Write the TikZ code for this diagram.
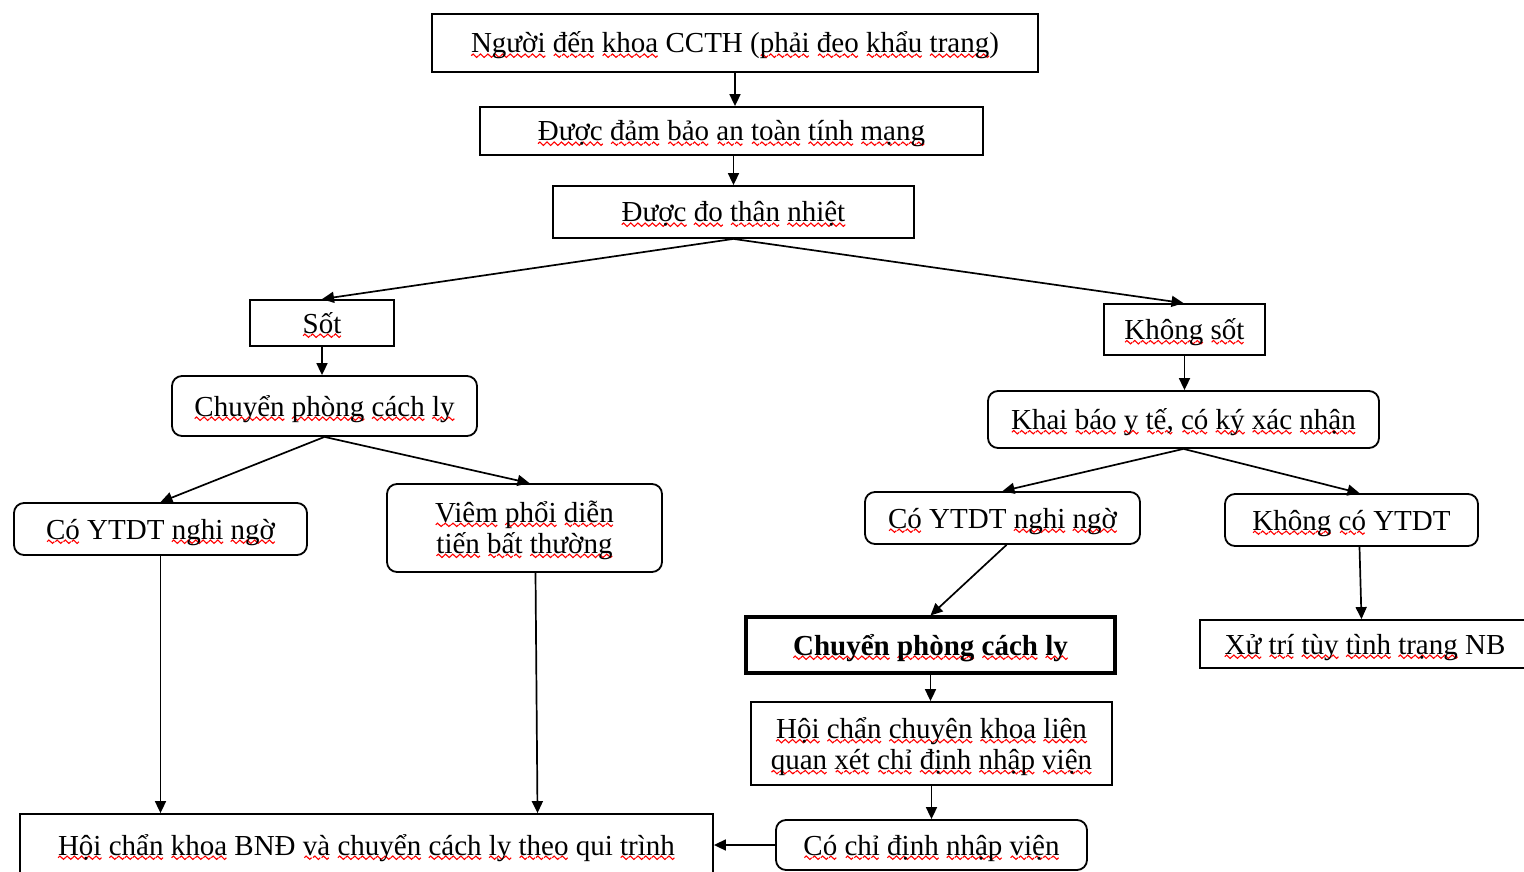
\documentclass[tikz,border=0pt]{standalone}
\usepackage{fontspec}
\setmainfont{Liberation Serif}
\usetikzlibrary{arrows.meta,calc}
\newsavebox\wavebox
\newsavebox\sqbox
\newcommand\sq[1]{\sbox\sqbox{#1}\rlap{\raisebox{-4.5pt}{\hbox to\wd\sqbox{\xleaders\copy\wavebox\hfill}}}\usebox\sqbox}
\newcommand\boxfont{\fontsize{29pt}{31pt}\selectfont}
\begin{document}
\sbox\wavebox{\begin{pgfpicture}\pgfsetlinewidth{1.1pt}\pgfsetstrokecolor{red}%
\pgfpathmoveto{\pgfpointorigin}\pgfpathsine{\pgfpoint{1.8pt}{1.7pt}}\pgfpathcosine{\pgfpoint{1.8pt}{-1.7pt}}%
\pgfpathsine{\pgfpoint{1.8pt}{-1.7pt}}\pgfpathcosine{\pgfpoint{1.8pt}{1.7pt}}\pgfusepath{stroke}%
\pgfresetboundingbox\pgfpathrectangle{\pgfpoint{0pt}{-1.8pt}}{\pgfpoint{7.2pt}{3.6pt}}\pgfusepath{use as bounding box}%
\end{pgfpicture}}%
\begin{tikzpicture}[x=1pt,y=-1pt,
  box/.style={draw, line width=1.8pt, inner sep=0pt, font=\boxfont, text height=21pt, text depth=1pt},
  rbox/.style={box, rounded corners=10pt},
  txt/.style={font=\boxfont, align=center, inner sep=0pt},
  arr/.style={-{Triangle[length=12pt,width=11pt]}, line width=1.7pt}]
\useasboundingbox (0,0) rectangle (1524,872);

\node[box, minimum width=606pt, minimum height=58pt] (top) at (735,43)
  {\sq{Người} \sq{đến} \sq{khoa} CCTH (\sq{phải} \sq{đeo} \sq{khẩu} \sq{trang})};
\node[box, minimum width=503pt, minimum height=48pt] (b2) at (731.5,131)
  {\sq{Được} \sq{đảm} \sq{bảo} \sq{an} \sq{toàn} \sq{tính} \sq{mạng}};
\node[box, minimum width=361pt, minimum height=52pt] (b3) at (733.5,212)
  {\sq{Được} \sq{đo} \sq{thân} \sq{nhiệt}};
\node[box, minimum width=144pt, minimum height=46pt] (sot) at (322,323) {\sq{Sốt}};
\node[box, minimum width=161pt, minimum height=51pt] (ks) at (1184.5,329.5) {\sq{Không} \sq{sốt}};
\node[rbox, minimum width=305pt, minimum height=60pt] (cp1) at (324.5,406)
  {\sq{Chuyển} \sq{phòng} \sq{cách} \sq{ly}};
\node[rbox, minimum width=391pt, minimum height=57pt] (kb) at (1183.5,419.5)
  {\sq{Khai} \sq{báo} \sq{y} \sq{tế,} \sq{có} \sq{ký} \sq{xác} \sq{nhận}};
\node[rbox, minimum width=293pt, minimum height=52pt] (cy1) at (160.5,529)
  {\sq{Có} YTDT \sq{nghi} \sq{ngờ}};
\node[rbox, minimum width=275pt, minimum height=88pt] (viem) at (524.5,528) {};
\node[txt] (viemt) at ([yshift=-2pt]viem.center)
  {\sq{Viêm} \sq{phổi} \sq{diễn}\\\sq{tiến} \sq{bất} \sq{thường}};
\node[rbox, minimum width=275pt, minimum height=52pt] (cy2) at (1002.5,518)
  {\sq{Có} YTDT \sq{nghi} \sq{ngờ}};
\node[rbox, minimum width=253pt, minimum height=52pt] (kco) at (1351.5,520)
  {\sq{Không} \sq{có} YTDT};
\node[box, line width=3.2pt, minimum width=369pt, minimum height=56pt, font=\boxfont\bfseries] (cp2) at (930.5,645)
  {\sq{Chuyển} \sq{phòng} \sq{cách} \sq{ly}};
\node[box, minimum width=330pt, minimum height=48pt] (xu) at (1365,644)
  {\sq{Xử} \sq{trí} \sq{tùy} \sq{tình} \sq{trạng} NB};
\node[box, minimum width=361pt, minimum height=83pt] (hc) at (931.5,743.5) {};
\node[txt] (hct) at ([yshift=-3pt]hc.center)
  {\sq{Hội} \sq{chẩn} \sq{chuyên} \sq{khoa} \sq{liên}\\\sq{quan} \sq{xét} \sq{chỉ} \sq{định} \sq{nhập} \sq{viện}};
\node[rbox, minimum width=311pt, minimum height=50pt] (ccd) at (931.5,845)
  {\sq{Có} \sq{chỉ} \sq{định} \sq{nhập} \sq{viện}};
\node[box, minimum width=693pt, minimum height=62pt] (bnd) at (366.5,845)
  {\sq{Hội} \sq{chẩn} \sq{khoa} BNĐ \sq{và} \sq{chuyển} \sq{cách} \sq{ly} \sq{theo} qui \sq{trình}};

\draw[arr] (top.south) -- (top.south |- b2.north);
\draw[arr] ([xshift=2pt]b2.south) -- ([xshift=2pt]b2.south |- b3.north);
\draw[arr] (b3.south) -- (sot.north);
\draw[arr] (b3.south) -- ([xshift=-1pt]ks.north);
\draw[arr] (sot.south) -- (sot.south |- cp1.north);
\draw[arr] (ks.south) -- (ks.south |- kb.north);
\draw[arr] (cp1.south) -- (cy1.north);
\draw[arr] (cp1.south) -- ([xshift=5pt]viem.north);
\draw[arr] (kb.south) -- (cy2.north);
\draw[arr] (kb.south) -- ([xshift=8pt]kco.north);
\draw[arr] (cy1.south) -- (cy1.south |- bnd.north);
\draw[arr] ([xshift=11pt]viem.south) -- ([xshift=13pt]viem.south |- bnd.north);
\draw[arr] ([xshift=4pt]cy2.south) -- (cp2.north);
\draw[arr] ([xshift=8pt]kco.south) -- ([xshift=10pt]kco.south |- xu.north);
\draw[arr] (cp2.south) -- (cp2.south |- hc.north);
\draw[arr] (hc.south) -- (hc.south |- ccd.north);
\draw[arr] (ccd.west) -- (ccd.west -| bnd.east);
\end{tikzpicture}
\end{document}
